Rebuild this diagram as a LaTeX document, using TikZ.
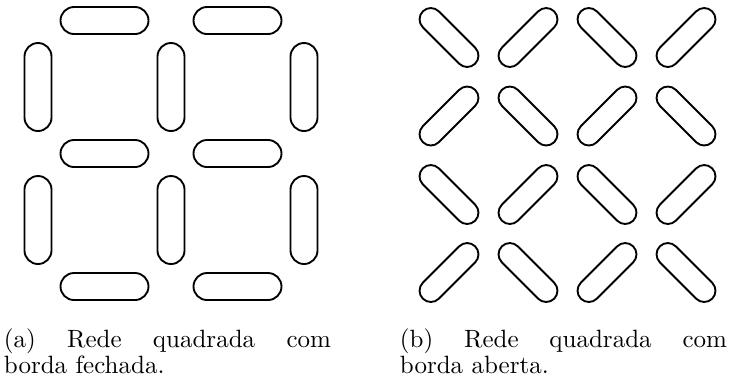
\documentclass[tikz,border=0pt]{standalone}
\usepackage{tikz}
% stadium shape: centre (x,y), angle, half length, radius
\def\haste(#1,#2)(#3:#4:#5){\draw[shift={(#1,#2)},rotate=#3,rounded corners=#5*0.4pt] (-#4,-#5) rectangle (#4,#5);}

\begin{document}
\begin{tikzpicture}[x=0.4pt,y=-0.4pt,line width=0.75pt]
	%%%%% START %%%%%
	\useasboundingbox (0,0) rectangle (731,383);
	
	% borda fechada
	\haste(104.5,20.5)(0:44:13.5);
	\haste(237.5,20.5)(0:44:13.5);
	\haste(38,87)(90:44:13.5);
	\haste(171,87)(90:44:13.5);
	\haste(304,87)(90:44:13.5);
	\haste(104.5,153.5)(0:44:13.5);
	\haste(237.5,153.5)(0:44:13.5);
	\haste(38,220)(90:44:13.5);
	\haste(171,220)(90:44:13.5);
	\haste(304,220)(90:44:13.5);
	\haste(104.5,286.5)(0:44:13.5);
	\haste(237.5,286.5)(0:44:13.5);
	
	% borda aberta
	\haste(449,37.5)(-45:37:11.3);
	\haste(528,37.5)(45:37:11.3);
	\haste(607,37.5)(-45:37:11.3);
	\haste(686,37.5)(45:37:11.3);
	
	\haste(449,116)(45:37:11.3);
	\haste(528,116)(-45:37:11.3);
	\haste(607,116)(45:37:11.3);
	\haste(686,116)(-45:37:11.3);
	
	\haste(449,194.5)(-45:37:11.3);
	\haste(528,194.5)(45:37:11.3);
	\haste(607,194.5)(-45:37:11.3);
	\haste(686,194.5)(45:37:11.3);
	
	\haste(449,272.5)(45:37:11.3);
	\haste(528,272.5)(-45:37:11.3);
	\haste(607,272.5)(45:37:11.3);
	\haste(686,272.5)(-45:37:11.3);
	
	% legendas
	\node[anchor=base west, inner sep=0pt, text width=130.8pt, align=justify, font=\fontsize{10}{9.4}\selectfont] (legA) at (3,347) {(a) Rede quadrada com\linebreak borda fechada.};
	\node[anchor=base west, inner sep=0pt, text width=130.8pt, align=justify, font=\fontsize{10}{9.4}\selectfont] (legB) at (399,347) {(b) Rede quadrada com\linebreak borda aberta.};
	
	%%%%% END %%%%%
\end{tikzpicture}
\end{document}
